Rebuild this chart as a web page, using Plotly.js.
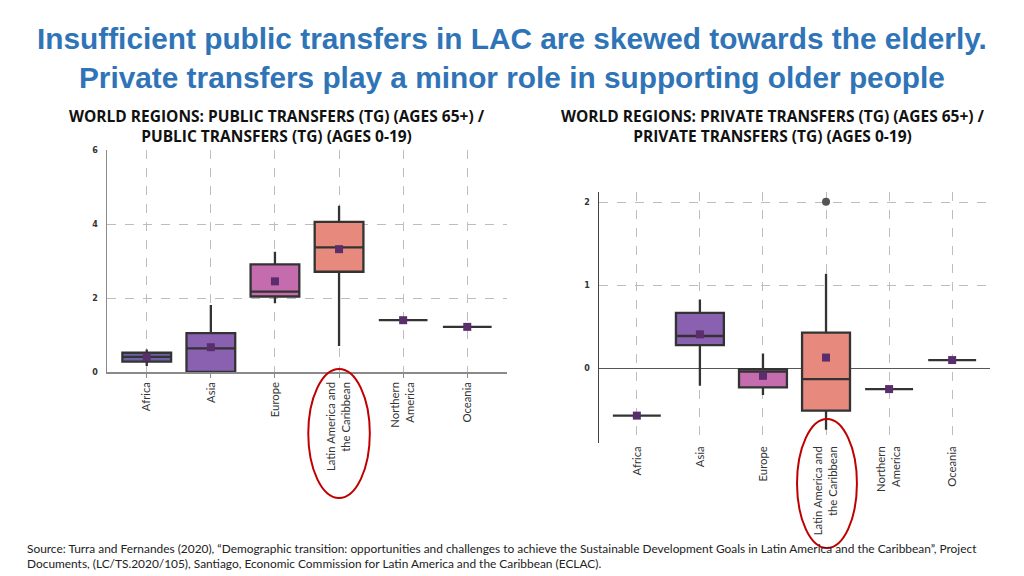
<!DOCTYPE html>
<html>
<head>
<meta charset="utf-8">
<script src="https://cdn.plot.ly/plotly-3.0.1.min.js"></script>
<style>html,body{margin:0;padding:0;background:#fff;}#chart{width:1024px;height:576px;}</style>
</head>
<body>
<div id="chart"></div>
<script>
// ---- data ----
const categories = ['Africa', 'Asia', 'Europe', 'Latin America and<br>the Caribbean', 'Northern<br>America', 'Oceania'];
const boxColors = ['#6c62a8', '#8a60b0', '#c56caf', '#e8897d', '#6c62a8', '#6c62a8'];

// Public transfers ratio (65+ / 0-19)
const pubLower  = [0.16, 0.00, 1.86, 0.70, 1.40, 1.22];
const pubQ1     = [0.28, 0.00, 2.04, 2.71, 1.40, 1.22];
const pubMedian = [0.41, 0.64, 2.17, 3.37, 1.40, 1.22];
const pubQ3     = [0.52, 1.05, 2.91, 4.06, 1.40, 1.22];
const pubUpper  = [0.61, 1.81, 3.25, 4.49, 1.40, 1.22];
const pubMean   = [0.40, 0.67, 2.45, 3.32, 1.40, 1.22];

// Private transfers ratio (65+ / 0-19)
const privLower  = [-0.57, -0.21, -0.32, -0.74, -0.25, 0.10];
const privQ1     = [-0.57,  0.28, -0.23, -0.51, -0.25, 0.10];
const privMedian = [-0.57,  0.39, -0.04, -0.13, -0.25, 0.10];
const privQ3     = [-0.57,  0.67, -0.01,  0.43, -0.25, 0.10];
const privUpper  = [-0.57,  0.83,  0.18,  1.14, -0.25, 0.10];
const privMean   = [-0.57,  0.41, -0.09,  0.13, -0.25, 0.10];
const privOutlierCat = 'Latin America and<br>the Caribbean';
const privOutlierVal = [2.01];

const pubYTicks = [0, 2, 4, 6];
const privYTicks = [0, 1, 2];

// ---- build traces ----
const idx = categories.map((_, i) => i);
const traces = [];
function addBoxes(lower, q1, med, q3, upper, mean, xa, ya) {
  categories.forEach((c, i) => {
    traces.push({
      type: 'box', x: [i], q1: [q1[i]], median: [med[i]], q3: [q3[i]],
      lowerfence: [lower[i]], upperfence: [upper[i]],
      width: 0.76, whiskerwidth: 0, boxpoints: false,
      fillcolor: boxColors[i], line: {color: '#333333', width: 2.3},
      xaxis: xa, yaxis: ya, showlegend: false, hoverinfo: 'skip'
    });
  });
  traces.push({
    type: 'scatter', mode: 'markers', x: idx, y: mean,
    marker: {symbol: 'square', size: 8, color: '#5a2d6b'},
    xaxis: xa, yaxis: ya, showlegend: false, hoverinfo: 'skip'
  });
}
addBoxes(pubLower, pubQ1, pubMedian, pubQ3, pubUpper, pubMean, 'x', 'y');
addBoxes(privLower, privQ1, privMedian, privQ3, privUpper, privMean, 'x2', 'y2');
traces.push({
  type: 'scatter', mode: 'markers', x: [categories.indexOf(privOutlierCat)], y: privOutlierVal,
  marker: {symbol: 'circle', size: 8, color: '#555555'},
  xaxis: 'x2', yaxis: 'y2', showlegend: false, hoverinfo: 'skip'
});

const lacIdx = categories.indexOf('Latin America and<br>the Caribbean');
const tickFont = {family: 'Lato, "Open Sans", sans-serif', size: 11.3, color: '#333'};
const yTickFont = {family: '"DejaVu Sans", sans-serif', size: 8, color: '#333', weight: 'bold'};

const layout = {
  width: 1024, height: 576,
  margin: {l: 0, r: 0, t: 0, b: 0},
  paper_bgcolor: '#ffffff', plot_bgcolor: '#ffffff',
  boxmode: 'overlay',
  xaxis: {
    domain: [107/1024, 507/1024], range: [-0.62, 5.62],
    tickvals: idx, ticktext: categories, tickangle: -90, tickfont: tickFont,
    showgrid: true, gridcolor: '#bdbdbd', griddash: 'dash', gridwidth: 1,
    showline: true, linecolor: '#8a8a8a', linewidth: 1.5,
    ticks: 'outside', ticklen: 4, tickcolor: '#8a8a8a', zeroline: false, fixedrange: true
  },
  yaxis: {
    domain: [1 - 372/576, 1 - 150/576], range: [0, 6],
    tickvals: pubYTicks, tickfont: yTickFont, ticklabelstandoff: 6,
    showgrid: true, gridcolor: '#bdbdbd', griddash: 'dash', gridwidth: 1,
    showline: true, linecolor: '#8a8a8a', linewidth: 1.5,
    ticks: '', zeroline: false, fixedrange: true
  },
  xaxis2: {
    domain: [599/1024, 990/1024], range: [-0.6, 5.6], anchor: 'y2',
    tickvals: idx, ticktext: categories, tickangle: -90, tickfont: tickFont,
    showgrid: true, gridcolor: '#bdbdbd', griddash: 'dash', gridwidth: 1,
    showline: false, ticks: '', zeroline: false, fixedrange: true
  },
  yaxis2: {
    domain: [1 - 443/576, 1 - 191.7/576], range: [-0.9, 2.13], anchor: 'x2',
    tickvals: privYTicks, tickfont: yTickFont, ticklabelstandoff: 6,
    showgrid: true, gridcolor: '#bdbdbd', griddash: 'dash', gridwidth: 1,
    showline: true, linecolor: '#444', linewidth: 1.5,
    zeroline: true, zerolinecolor: '#555', zerolinewidth: 1.2,
    ticks: '', fixedrange: true
  },
  shapes: [
    {type: 'circle', xref: 'x', yref: 'paper', x0: lacIdx - 0.48, x1: lacIdx + 0.48,
     y0: 1 - 498/576, y1: 1 - 369/576, line: {color: '#c00000', width: 2}},
    {type: 'circle', xref: 'x2', yref: 'paper', x0: lacIdx - 0.46, x1: lacIdx + 0.49,
     y0: 1 - 548/576, y1: 1 - 419/576, line: {color: '#c00000', width: 2}}
  ],
  annotations: [
    {text: '<b>Insufficient public transfers in LAC are skewed towards the elderly.<br>Private transfers play a minor role in supporting older people</b>',
     x: 0.5, y: 1 - 58/576,
     xref: 'paper', yref: 'paper', showarrow: false, xanchor: 'center', yanchor: 'middle', align: 'center',
     font: {family: '"Liberation Sans", Arial, sans-serif', size: 29.8, color: '#3074b8'}},
    {text: '<b>WORLD REGIONS: PUBLIC TRANSFERS (TG) (AGES 65+) /<br>PUBLIC TRANSFERS (TG) (AGES 0-19)</b>', x: 277/1024, y: 1 - 126/576,
     xref: 'paper', yref: 'paper', showarrow: false, xanchor: 'center', yanchor: 'middle', align: 'center',
     font: {family: '"Open Sans", Lato, sans-serif', size: 15.5, color: '#111'}},
    {text: '<b>WORLD REGIONS: PRIVATE TRANSFERS (TG) (AGES 65+) /<br>PRIVATE TRANSFERS (TG) (AGES 0-19)</b>', x: 773/1024, y: 1 - 126/576,
     xref: 'paper', yref: 'paper', showarrow: false, xanchor: 'center', yanchor: 'middle', align: 'center',
     font: {family: '"Open Sans", Lato, sans-serif', size: 15.5, color: '#111'}},
    {text: 'Source: Turra and Fernandes (2020), \u201cDemographic transition: opportunities and challenges to achieve the Sustainable Development Goals in Latin America and the Caribbean\u201d, Project<br>Documents, (LC/TS.2020/105), Santiago, Economic Commission for Latin America and the Caribbean (ECLAC).',
     x: 25/1024, y: 1 - 555.5/576, xref: 'paper', yref: 'paper', showarrow: false, xanchor: 'left', yanchor: 'middle', align: 'left',
     font: {family: 'Lato, "Open Sans", sans-serif', size: 11.9, color: '#222'}}
  ]
};

Plotly.newPlot('chart', traces, layout, {displayModeBar: false, staticPlot: true});
</script>
</body>
</html>
